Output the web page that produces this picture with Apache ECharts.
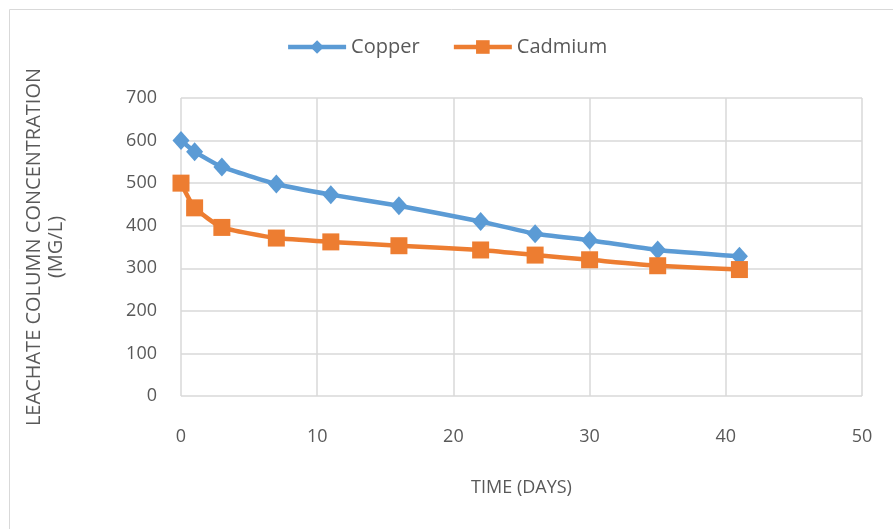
<!DOCTYPE html>
<html>
<head>
<meta charset="utf-8">
<script src="https://cdn.jsdelivr.net/npm/echarts@6/dist/echarts.min.js"></script>
<style>html,body{margin:0;padding:0;background:#fff}#c{width:893px;height:529px}</style>
</head>
<body>
<div id="c"></div>
<script>
const days = [0, 1, 3, 7, 11, 16, 22, 26, 30, 35, 41];
const copper = [600, 574, 538, 498, 473, 447, 410, 381, 366, 343, 328];
const cadmium = [500, 442, 396, 371, 362, 353, 343, 331, 320, 306, 297];
const xTicks = [0, 10, 20, 30, 40, 50];
const yTicks = [0, 100, 200, 300, 400, 500, 600, 700];

const chart = echarts.init(document.getElementById('c'));
const font = '"Open Sans", "Liberation Sans", sans-serif';
chart.setOption({
  animation: false,
  textStyle: { fontFamily: font },
  graphic: [{
    type: 'rect', left: 7, top: 7,
    shape: { width: 900, height: 540 },
    style: { fill: 'none', stroke: '#d9d9d9', lineWidth: 1 }
  }],
  legend: {
    top: 32, left: 'center',
    itemWidth: 58, itemHeight: 17, itemGap: 32,
    textStyle: { fontSize: 20, color: '#595959', fontFamily: font },
    lineStyle: { width: 4.5 },
    data: ['Copper', 'Cadmium']
  },
  grid: { left: 181, right: 31, top: 98, bottom: 133 },
  xAxis: {
    type: 'value', min: 0, max: 50, interval: 10,
    name: 'TIME (DAYS)', nameLocation: 'middle', nameGap: 83,
    nameTextStyle: { fontSize: 18, color: '#595959' },
    axisLine: { show: false }, axisTick: { show: false },
    axisLabel: { fontSize: 18, color: '#595959', margin: 32 },
    splitLine: { lineStyle: { color: '#d9d9d9', width: 1.5 } }
  },
  yAxis: {
    type: 'value', min: 0, max: 700, interval: 100,
    name: 'LEACHATE COLUMN CONCENTRATION\n(MG/L)', nameLocation: 'middle', nameGap: 114,
    nameTextStyle: { fontSize: 20, color: '#595959', lineHeight: 22 },
    axisLine: { show: false }, axisTick: { show: false },
    axisLabel: { fontSize: 18, color: '#595959', margin: 24 },
    splitLine: { lineStyle: { color: '#d9d9d9', width: 1.5 } }
  },
  series: [{
    name: 'Copper', type: 'line', smooth: 0.15,
    data: days.map((d, i) => [d, copper[i]]),
    symbol: 'diamond', symbolSize: [17, 19],
    lineStyle: { color: '#5b9bd5', width: 4.5 },
    itemStyle: { color: '#5b9bd5' },
    emphasis: { disabled: true }
  }, {
    name: 'Cadmium', type: 'line', smooth: 0.15,
    data: days.map((d, i) => [d, cadmium[i]]),
    symbol: 'rect', symbolSize: 17,
    lineStyle: { color: '#ed7d31', width: 4.5 },
    itemStyle: { color: '#ed7d31' },
    emphasis: { disabled: true }
  }]
});
</script>
</body>
</html>
